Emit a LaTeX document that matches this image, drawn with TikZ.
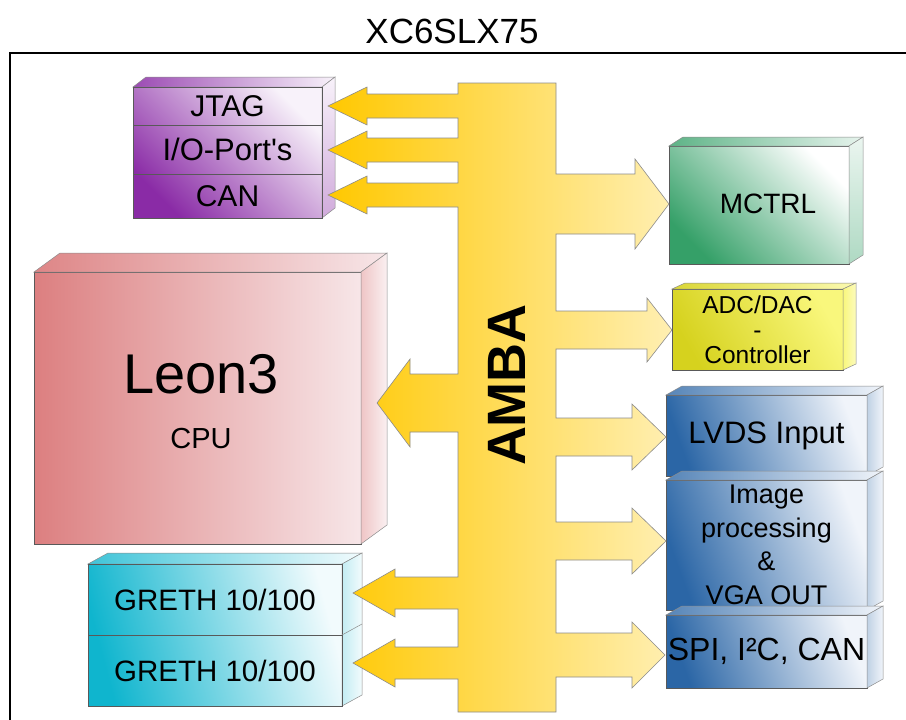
\documentclass[tikz,border=0pt]{standalone}
\usepackage{fontspec}
\setmainfont{Liberation Sans}
\definecolor{purpD}{HTML}{8A2BA6}
\definecolor{purpL}{HTML}{F8F2FA}
\definecolor{leonD}{HTML}{DC7F80}
\definecolor{leonL}{HTML}{F7E6E8}
\definecolor{grethD}{HTML}{0FB5CE}
\definecolor{grethL}{HTML}{F2FBFD}
\definecolor{mctrlD}{HTML}{35A068}
\definecolor{adcD}{HTML}{D6D21E}
\definecolor{adcL}{HTML}{F9F77C}
\definecolor{blueD}{HTML}{2B66A6}
\definecolor{blueL}{HTML}{F0F4FA}
\definecolor{busL}{HTML}{FFC800}
\definecolor{busR}{HTML}{FFEFB2}
\tikzset{
  front/.style={rectangle, draw=black!65, line width=0.7pt, inner sep=0pt, outer sep=0pt},
  row/.style={rectangle, draw=black!65, line width=0.7pt, inner sep=0pt, outer sep=0pt},
  lbl/.style={inner sep=0pt, outer sep=0pt, text=black},
  face/.style={draw=black!45, line width=0.5pt},
  purptop/.style={face, left color=purpD!85, right color=purpL},
  purpside/.style={face, top color=purpL, bottom color=purpD!40},
  leontop/.style={face, left color=leonD!95, right color=leonL},
  leonside/.style={face, left color=leonD!45, right color=leonL!60},
  grethtop/.style={face, left color=grethD!80, right color=grethL},
  grethside/.style={face, left color=grethD!25, right color=grethL},
  mctrltop/.style={face, left color=mctrlD!80, right color=mctrlD!12},
  mctrlside/.style={face, top color=mctrlD!10, bottom color=mctrlD!40},
  adctop/.style={face, left color=adcD!90, right color=adcL!60},
  adcside/.style={face, left color=adcL, right color=adcL!50},
  bluetop/.style={face, left color=blueD!80, right color=blueL},
  blueside/.style={face, left color=blueD!30, right color=blueL},
  bus/.style={draw=black!45, line width=0.6pt, left color=busL, right color=busR},
}
\newcommand\cubefaces[5]{%
  \path[#4] (#1.north west) -- ++(#2,#3) -- ([shift={(#2,#3)}]#1.north east) -- (#1.north east) -- cycle;
  \path[#5] (#1.north east) -- ++(#2,#3) -- ([shift={(#2,#3)}]#1.south east) -- (#1.south east) -- cycle;}
\begin{document}
\begin{tikzpicture}[x=1pt,y=1pt]
\useasboundingbox (0,0) rectangle (906,-720);
\fill[white] (0,0) rectangle (906,-720);
% title and frame
\node[lbl, font=\fontsize{35}{40}\selectfont] (title) at (452,-31) {XC6SLX75};
\coordinate (frameR) at (906,-53);
\coordinate (frameB) at (10,-720);
\draw[line width=1.3pt] (frameB) |- (frameR);

% purple stack
\node[front, minimum width=189pt, minimum height=131pt, top color=purpL, bottom color=purpD, shading angle=-45] (purple) at (227.5,-152.5) {};
\cubefaces{purple}{13}{10}{purptop}{purpside}
\node[row, minimum width=189pt, minimum height=38pt, font=\fontsize{30}{32}\selectfont] (jtag) at (227.5,-106) {JTAG};
\node[row, minimum width=189pt, minimum height=49pt, font=\fontsize{31}{32}\selectfont] (io) at (227.5,-149.5) {I/O-Port\textquotesingle s};
\node[row, minimum width=189pt, minimum height=44pt, font=\fontsize{30}{32}\selectfont] (can) at (227.5,-196) {CAN};

% Leon3
\node[front, minimum width=327pt, minimum height=272pt, left color=leonD, right color=leonL] (leon) at (197.5,-408) {};
\cubefaces{leon}{26}{19}{leontop}{leonside}
\node[lbl, font=\fontsize{56}{60}\selectfont] (leonname) at (201,-374) {Leon3};
\node[lbl, font=\fontsize{29}{32}\selectfont] (cpu) at (201,-439) {CPU};

% GRETH stack
\node[front, minimum width=254pt, minimum height=142pt, top color=grethL, bottom color=grethD, shading angle=-75] (greth) at (215,-635) {};
\cubefaces{greth}{20}{11}{grethtop}{grethside}
\node[row, minimum width=254pt, minimum height=71pt, font=\fontsize{29.5}{32}\selectfont] (greth1) at (215,-599.5) {GRETH 10/100};
\node[row, minimum width=254pt, minimum height=71pt, font=\fontsize{29.5}{32}\selectfont] (greth2) at (215,-670.5) {GRETH 10/100};
\draw[face] (greth1.south east) -- ++(20,11);

% MCTRL
\node[front, minimum width=180pt, minimum height=118pt, top color=white, bottom color=mctrlD, shading angle=-45] (mctrl) at (759,-205) {};
\cubefaces{mctrl}{14}{9}{mctrltop}{mctrlside}
\node[lbl, font=\fontsize{28}{32}\selectfont] (mctrltext) at (768,-204) {MCTRL};

% ADC/DAC
\node[front, minimum width=171pt, minimum height=81pt, top color=adcL, bottom color=adcD, shading angle=-60, align=center, font=\fontsize{24.5}{25}\selectfont] (adc) at (757.5,-329.5) {ADC/DAC\\-\\Controller};
\cubefaces{adc}{13}{6}{adctop}{adcside}

% blue stack
\node[front, minimum width=201pt, minimum height=81pt, top color=blueL, bottom color=blueD, shading angle=-70, font=\fontsize{31}{32}\selectfont] (lvds) at (766.5,-435.5) {LVDS Input};
\cubefaces{lvds}{16}{9}{bluetop}{blueside}
\node[front, minimum width=201pt, minimum height=130pt, top color=blueL, bottom color=blueD, shading angle=-70, align=center, font=\fontsize{27}{33.5}\selectfont] (img) at (766.5,-545) {Image\\processing\\\&\\VGA OUT};
\cubefaces{img}{16}{9}{bluetop}{blueside}
\node[front, minimum width=201pt, minimum height=73pt, top color=blueL, bottom color=blueD, shading angle=-70, font=\fontsize{32}{34}\selectfont] (spi) at (766.5,-651.5) {SPI, I²C, CAN};
\cubefaces{spi}{16}{9}{bluetop}{blueside}

% AMBA bus with arrows
\path[bus] (458,-83) -- (556,-83)
  -- (556,-174) -- (635,-174) -- (635,-159) -- (669,-204) -- (635,-249) -- (635,-234) -- (556,-234)
  -- (556,-311) -- (647,-311) -- (647,-298) -- (672,-330) -- (647,-362) -- (647,-349) -- (556,-349)
  -- (556,-418) -- (632,-418) -- (632,-404) -- (666,-437) -- (632,-470) -- (632,-456) -- (556,-456)
  -- (556,-522) -- (632,-522) -- (632,-508) -- (666,-541) -- (632,-574) -- (632,-560) -- (556,-560)
  -- (556,-633) -- (632,-633) -- (632,-622) -- (665,-655) -- (632,-688) -- (632,-677) -- (556,-677)
  -- (556,-712) -- (458,-712)
  -- (458,-679) -- (395,-679) -- (395,-687) -- (353,-663) -- (395,-639) -- (395,-647) -- (458,-647)
  -- (458,-609) -- (395,-609) -- (395,-617) -- (353,-593) -- (395,-569) -- (395,-577) -- (458,-577)
  -- (458,-432) -- (410,-432) -- (410,-447) -- (377,-403) -- (410,-359) -- (410,-374) -- (458,-374)
  -- (458,-207) -- (367,-207) -- (367,-214) -- (328,-195) -- (367,-176) -- (367,-183) -- (458,-183)
  -- (458,-162) -- (367,-162) -- (367,-169) -- (328,-150) -- (367,-131) -- (367,-138) -- (458,-138)
  -- (458,-118) -- (367,-118) -- (367,-125) -- (328,-106) -- (367,-87) -- (367,-94) -- (458,-94)
  -- cycle;
\node[lbl, rotate=90, font=\fontsize{54}{60}\selectfont\bfseries] (amba) at (507,-385) {AMBA};
\end{tikzpicture}
\end{document}
